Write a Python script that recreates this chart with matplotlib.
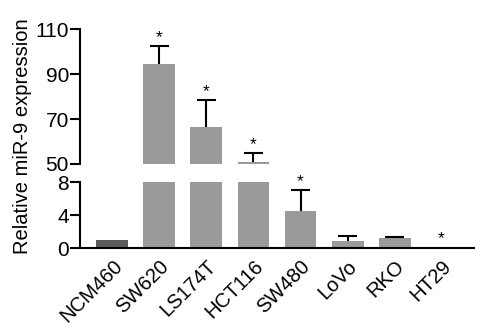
import matplotlib
matplotlib.use("Agg")
import matplotlib.pyplot as plt
import numpy as np

plt.rcParams['font.family'] = ['Liberation Sans', 'DejaVu Sans']

categories = ["NCM460", "SW620", "LS174T", "HCT116", "SW480", "LoVo", "RKO", "HT29"]
values = [1.0, 94.4, 66.6, 51.0, 4.5, 0.92, 1.2, 0.2]
errors = [0.0, 8.2, 11.9, 3.9, 2.6, 0.55, 0.15, 0.0]
significant = [False, True, True, True, True, False, False, True]
top_ticks = [50, 70, 90, 110]
bottom_ticks = [0, 4, 8]

colors = ["#5c5c5c"] + ["#9a9a9a"] * (len(categories) - 1)
x = np.arange(len(categories))
W = 0.68
CAP = 0.2

fig = plt.figure(figsize=(5.0, 3.34), dpi=100)
ax_top = fig.add_axes([0.16, 0.509, 0.788, 0.403])
ax_bot = fig.add_axes([0.16, 0.2566, 0.788, 0.1974])

for ax, lo, hi in [(ax_top, 50, 110), (ax_bot, 0, 8)]:
    ax.bar(x, values, width=W, color=colors, zorder=2)
    for xi, v, e in zip(x, values, errors):
        if e > 0:
            ax.vlines(xi, v, v + e, color='black', linewidth=1.5, zorder=3)
            ax.hlines(v + e, xi - CAP, xi + CAP, color='black', linewidth=1.5, zorder=3)
    ax.set_ylim(lo, hi)
    ax.set_xlim(-0.69, 7.69)
    ax.spines['top'].set_visible(False)
    ax.spines['right'].set_visible(False)
    ax.spines['left'].set_linewidth(1.5)
    ax.spines['bottom'].set_linewidth(1.5)
    ax.tick_params(axis='y', length=7, width=1.5, labelsize=15, pad=1)

ax_top.set_yticks(top_ticks)
ax_top.spines['bottom'].set_visible(False)
ax_top.set_xticks([])
ax_bot.set_yticks(bottom_ticks)
ax_bot.set_xticks(x)
ax_bot.set_xticklabels(categories, rotation=45, ha='right', rotation_mode='anchor',
                       fontsize=14.5)
ax_bot.tick_params(axis='x', length=0, pad=6)

# significance stars
for xi, v, e, s in zip(x, values, errors, significant):
    if not s:
        continue
    top = v + e
    if top > 8:
        ax_top.text(xi, top + 0.3, "*", ha='center', va='bottom', fontsize=12.5, zorder=4)
    else:
        ax_bot.text(xi, top + 0.05, "*", ha='center', va='bottom', fontsize=12.5, zorder=4)

fig.text(0.046, 0.592, "Relative miR-9 expression", rotation=90, ha='center', va='center',
         fontsize=14.5)

fig.savefig("out.png", dpi=100)
